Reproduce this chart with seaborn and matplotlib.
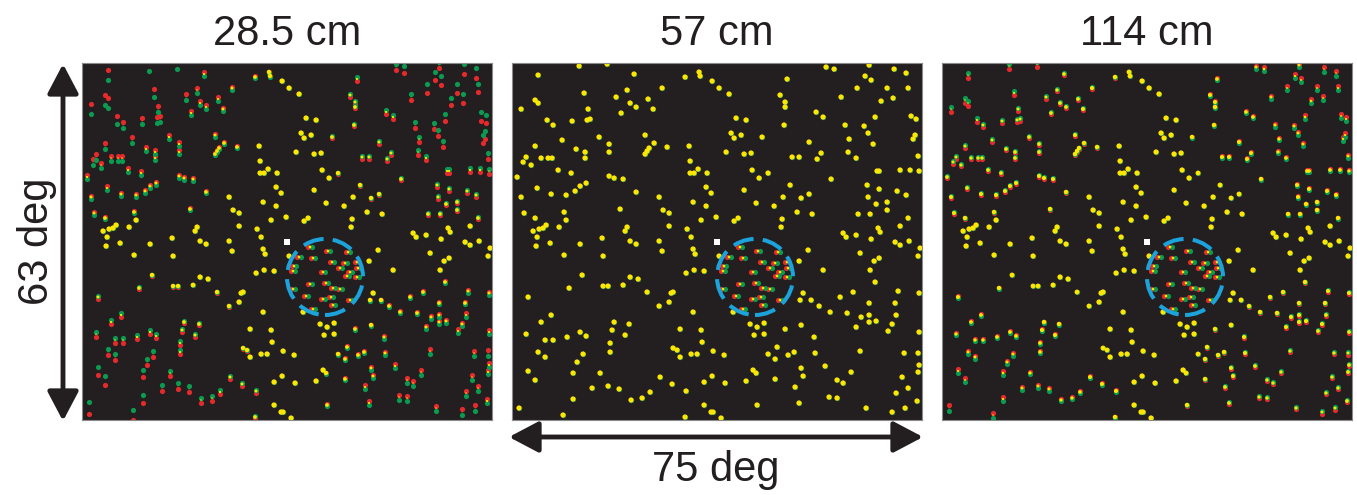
import numpy as np
import pandas as pd
import matplotlib
matplotlib.use("Agg")
import matplotlib.pyplot as plt
import seaborn as sns
from matplotlib.patches import Ellipse, FancyArrowPatch

# ------------------------------------------------------------------ data
panel_titles = ["28.5 cm", "57 cm", "114 cm"]
split_gain = [1.0, 0.0, -0.5]          # relative red/green split at each viewing distance
width_label = "75 deg"
height_label = "63 deg"
field_w_deg, field_h_deg = 75.0, 63.0
field_w_px, field_h_px = 410.0, 357.0   # field size in screen pixels (dot positions below)

# upper-left region dots: x, y (field px, from top-left) and split d (px, + = red above)
ul_x = [26, 67, 95, 122, 23, 26, 9, 72, 76, 75, 78, 35, 41, 60, 50, 23, 14, 11, 19, 29,
        36, 40, 64, 73, 73, 87, 97, 97, 46, 59, 5, 25, 9, 39, 54, 63, 68, 74, 97, 102,
        111, 104, 115, 118, 124, 109, 136, 141, 150, 173, 187, 188, 200, 207, 133, 142, 133, 135, 137, 155,
        177, 178, 178, 182, 186, 195, 194, 199, 147, 124, 108, 151, 157, 181, 194, 204, 189, 157, 175, 179,
        12, 23, 52, 54, 21, 27, 31, 34, 25, 47, 115, 113, 90]
ul_y = [12, 3, 1, 11, 37, 40, 46, 30, 46, 57, 56, 57, 62, 58, 77, 83, 94, 99, 102, 95,
        95, 95, 86, 89, 95, 74, 81, 89, 107, 110, 114, 125, 134, 131, 132, 128, 123, 120, 113, 115,
        116, 34, 27, 40, 44, 50, 36, 46, 25, 14, 9, 13, 18, 25, 72, 80, 91, 88, 85, 84,
        83, 98, 110, 110, 106, 110, 124, 130, 134, 129, 146, 147, 150, 139, 143, 154, 157, 163, 166, 174,
        150, 155, 149, 157, 168, 166, 165, 162, 174, 164, 164, 168, 175]
ul_d = [5, 5, 5, 2, 5, 5, 5, 4, 3, 3, 3, 4, 3, 3, 3, 3, 3, 3, 2.5, 2.5,
        2.5, 2.5, 2, 2, 2, 2, 2, 2, 2, 2, 2, 2, 1.5, 1.5, 1.5, 1.5, 1.5, 1.5, 1.5, 1.5,
        1.5, 3, 2.5, 2, 2, 2, 2, 1.5, 1.5, 1, 0.5, 0.5, 0, 0, 1.5, 1, 1, 1, 1, 1,
        0, 0, 0, 0, 0, 0, 0, 0, 0, 1, 1, 0, 0, 0, 0, 0, 0, 0, 0, 0,
        1.5, 1, 1, 0, 0, 0, 0, 0, 0, 0, 0, 0, 0]

# upper-right region dots
ur_x = [217, 275, 268, 273, 273, 224, 234, 219, 222, 229, 250, 272, 304, 311, 297, 309, 305, 280, 287, 214,
        232, 239, 240, 247, 256, 278, 232, 244, 262, 271, 289, 297, 319, 285, 300, 270, 269, 222, 226, 331,
        334, 344, 359, 366, 368, 388, 346, 358, 356, 355, 367, 364, 375, 375, 385, 394, 396, 365, 367, 388,
        398, 407, 406, 329, 333, 337, 336, 344, 352, 356, 361, 363, 369, 375, 381, 353, 359, 345, 314, 322,
        357, 382, 394, 396, 399, 404, 403, 401]
ur_y = [31, 16, 32, 39, 44, 55, 57, 70, 75, 72, 74, 62, 49, 54, 79, 90, 96, 94, 94, 89,
        91, 90, 107, 115, 110, 122, 127, 140, 143, 134, 135, 131, 116, 149, 151, 156, 164, 158, 155, 170,
        174, 172, 176, 165, 169, 163, 151, 151, 134, 122, 126, 141, 139, 147, 128, 132, 155, 108, 108, 107,
        107, 108, 93, 34, 62, 76, 89, 95, 63, 70, 81, 54, 38, 25, 35, 13, 17, 25, 4, 6,
        2, 6, 10, 25, 53, 56, 72, 76]
ur_d = [0, -2, -1.5, -1.5, -1, 0, 0, 0, 0, 0, -1, -1, -2, -2, -1.5, -1.5, -1.5, -1.5, -1.5, 0,
        0, 0, 0, 0, -0.5, -0.5, 0, 0, 0, 0, -0.5, -0.5, -1, 0, 0, 0, 0, 0, 0, 0,
        0, 0, 0, 0, 0, 0, -1, -1, -1.5, -1.5, -1.5, -1, -1, -1, -1.5, -1.5, -1, -2, -2, -2,
        -2, -2.5, -3, -3, -3, -2.5, -2.5, -2, -3, -3, -3, -3.5, -3.5, -4.5, -4.5, -4, -4.5, -4.5, -3, -3.5,
        -3, -5, -5, -4, -4.5, -4, -4, -4]

# lower-left region dots
ll_x = [24, 38, 68, 52, 91, 118, 124, 147, 150, 181, 183, 207, 174, 182, 192, 70, 118, 126, 91, 96,
        111, 135, 159, 161, 147, 157, 181, 57, 16, 39, 29, 14, 33, 41, 55, 68, 74, 102, 100, 117,
        113, 98, 98, 26, 33, 71, 65, 16, 23, 61, 88, 80, 96, 107, 61, 7, 51, 119, 130, 138,
        148, 160, 174, 173, 168, 189, 190, 161, 165, 168, 179, 185, 201, 200, 192, 192, 199, 201]
ll_y = [183, 180, 181, 192, 193, 178, 181, 178, 188, 186, 191, 193, 210, 207, 208, 212, 214, 216, 223, 223,
        222, 229, 230, 229, 243, 239, 249, 225, 234, 252, 259, 271, 277, 277, 274, 269, 273, 259, 267, 261,
        272, 280, 289, 289, 294, 291, 299, 308, 317, 310, 310, 325, 323, 326, 336, 345, 352, 337, 335, 329,
        314, 321, 328, 354, 266, 267, 279, 285, 287, 294, 291, 291, 288, 313, 319, 342, 349, 349]
ll_d = [0, 0, 0, 0, 0, 0, 0, 0, 0, 0, 0, 0, 0, 0, 0, -0.5, 0, 0, -0.5, -0.5,
        -0.3, -0.5, 0, 0, -0.5, 0, 0, -1, -1.5, -2, -2, -2.5, -2.5, -2.5, -2, -2, -2, -1, -1.5, -1,
        -1.5, -2, -2, -3, -3, -3, -3, -4, -4.5, -3.5, -2.5, -3, -3, -3, -4, -6, -5, -2.5, -2.5, -2,
        -1.5, -1.5, -1.5, -1, 0, 0, 0, -0.5, -0.5, 0, 0, 0, 0, 0, 0, 0, 0, 0]

# lower-right region dots
lr_x = [296, 287, 311, 348, 362, 367, 358, 383, 388, 397, 408, 406, 363, 341, 328, 291, 288, 299, 307, 318,
        335, 386, 407, 357, 383, 349, 357, 357, 364, 344, 380, 376, 384, 407, 221, 238, 245, 252, 242, 252,
        273, 289, 302, 265, 256, 263, 276, 282, 303, 212, 241, 244, 234, 213, 263, 289, 291, 283, 287, 245,
        209, 313, 325, 331, 339, 348, 317, 325, 354, 380, 393, 392, 406, 407, 406, 390, 396, 384, 405]
lr_y = [187, 198, 207, 190, 198, 195, 207, 179, 182, 178, 185, 193, 219, 229, 234, 230, 237, 237, 243, 249,
        250, 228, 230, 240, 240, 254, 259, 252, 258, 264, 261, 268, 252, 269, 249, 261, 264, 260, 272, 271,
        266, 262, 274, 284, 291, 296, 292, 289, 290, 292, 307, 310, 318, 320, 316, 305, 313, 324, 340, 342,
        355, 303, 317, 320, 309, 288, 334, 335, 345, 349, 345, 290, 290, 302, 309, 314, 325, 330, 338]
lr_d = [0, 0, 0, 0, 0, 0, 0, 0, 0, 0, 0, 0, 1, 1, 1, 0, 0.5, 0.5, 1, 1,
        1, 1.5, 1.5, 1, 1, 1.5, 1.5, 1.5, 1.5, 1.5, 1.5, 2, 2, 2, 0, 0, 0, 0, 0, 0,
        1, 0.5, 1.5, 1, 0.5, 1, 1, 1, 1.5, 0, 0, 0.5, 0, 0, 1, 1.5, 1.5, 2, 2, 1,
        0, 2, 2.5, 2.5, 2.5, 2.5, 2.5, 2.5, 2.5, 3, 3, 2.5, 3, 2, 2, 2.5, 2.5, 2.5, 2]

# dots inside the cued circle (split horizontally, red left / green right)
ring_x = [228, 246, 217, 231, 266, 250, 263, 258, 275, 276, 212, 241, 268, 265, 275, 228, 244, 251, 258, 211,
          241, 249, 268, 224, 231, 251, 211]
ring_y = [184, 188, 194, 195, 189, 199, 200, 205, 199, 205, 203, 209, 209, 213, 214, 221, 220, 225, 226, 226,
          236, 234, 237, 233, 246, 242, 208]
ring_split = 1.7
circle_center = (243, 214)
circle_radius = 38
fixation_xy = (205, 179)

# ------------------------------------------------------------------ style
BG = "#231f20"
RED = "#e42a2b"
GREEN = "#0b9a4f"
YELLOW = "#ffe600"
BLUE = "#1ca3dc"
INK = "#231f20"

sns.set_style("white")
plt.rcParams["font.family"] = ["Liberation Sans", "DejaVu Sans"]

W, H = 1357, 495
fig = plt.figure(figsize=(W / 100, H / 100), dpi=100)

sx = field_w_deg / field_w_px
sy = field_h_deg / field_h_px


def to_deg(px, py):
    px = np.asarray(px, float)
    py = np.asarray(py, float)
    return px * sx - field_w_deg / 2, field_h_deg / 2 - py * sy


X, Y = to_deg(ul_x + ur_x + ll_x + lr_x, ul_y + ur_y + ll_y + lr_y)
Dsplit = np.array(ul_d + ur_d + ll_d + lr_d, float)
RX, RY = to_deg(ring_x, ring_y)
CX, CY = to_deg([circle_center[0]], [circle_center[1]])
FX, FY = to_deg([fixation_xy[0]], [fixation_xy[1]])

dot_px = 5.2
pt = 0.72
s_full = (dot_px * pt) ** 2

panel_lefts = [82, 512, 942]
top_px, bot_px = 63, 420

for left, title, g in zip(panel_lefts, panel_titles, split_gain):
    ax = fig.add_axes([left / W, 1 - bot_px / H, field_w_px / W, (bot_px - top_px) / H])
    ax.set_facecolor(BG)
    off = Dsplit * g * sy
    roff = ring_split * sx
    red = pd.DataFrame({"x": np.r_[X, RX - roff], "y": np.r_[Y + off, RY]})
    green = pd.DataFrame({"x": np.r_[X, RX + roff], "y": np.r_[Y - off, RY]})
    ydiam = np.r_[np.maximum(dot_px - 1.5 * np.abs(Dsplit * g), 0),
                  np.full(len(RX), max(dot_px - 1.5 * ring_split, 0))]
    yel = pd.DataFrame({"x": np.r_[X, RX], "y": np.r_[Y, RY], "s": (ydiam * pt) ** 2})
    yel = yel[yel["s"] > 0.05].reset_index(drop=True)

    sns.scatterplot(data=red, x="x", y="y", color=RED, s=s_full, linewidth=0, ax=ax, legend=False)
    sns.scatterplot(data=green, x="x", y="y", color=GREEN, s=s_full, linewidth=0, ax=ax, legend=False)
    sns.scatterplot(data=yel, x="x", y="y", color=YELLOW, s=yel["s"].to_numpy(), linewidth=0,
                    ax=ax, legend=False)
    sns.scatterplot(x=FX, y=FY, color="white", marker="s", s=(6.5 * pt) ** 2, linewidth=0,
                    ax=ax, legend=False)
    ax.add_patch(Ellipse((CX[0], CY[0]), width=2 * circle_radius * sx, height=2 * circle_radius * sy,
                         fill=False, ec=BLUE, lw=2.9, ls=(0, (5.2, 2.3)), zorder=5))

    ax.set_xlim(-field_w_deg / 2, field_w_deg / 2)
    ax.set_ylim(-field_h_deg / 2, field_h_deg / 2)
    ax.set_xticks([])
    ax.set_yticks([])
    ax.set_xlabel("")
    ax.set_ylabel("")
    for sp in ax.spines.values():
        sp.set_color("#8a8a8a")
        sp.set_linewidth(0.8)

    fig.text((left + field_w_px / 2) / W, 1 - 45 / H, title, ha="center", va="baseline",
             fontsize=30, color=INK)

# dimension arrows
arrow_style = "<|-|>,head_length=18,head_width=9.5"
fig.add_artist(FancyArrowPatch((63 / W, 1 - 421 / H), (63 / W, 1 - 64 / H), transform=fig.transFigure,
                               arrowstyle=arrow_style, mutation_scale=1, lw=3.5, color=INK,
                               shrinkA=0, shrinkB=0))
fig.add_artist(FancyArrowPatch((509 / W, 1 - 437 / H), (923 / W, 1 - 437 / H), transform=fig.transFigure,
                               arrowstyle=arrow_style, mutation_scale=1, lw=3.5, color=INK,
                               shrinkA=0, shrinkB=0))
fig.text(37 / W, 1 - 241.5 / H, height_label, rotation=90, ha="center", va="center",
         fontsize=30, color=INK)
fig.text(716 / W, 1 - 470 / H, width_label, ha="center", va="center", fontsize=30, color=INK)

fig.savefig("out.png", dpi=100, facecolor="white")
